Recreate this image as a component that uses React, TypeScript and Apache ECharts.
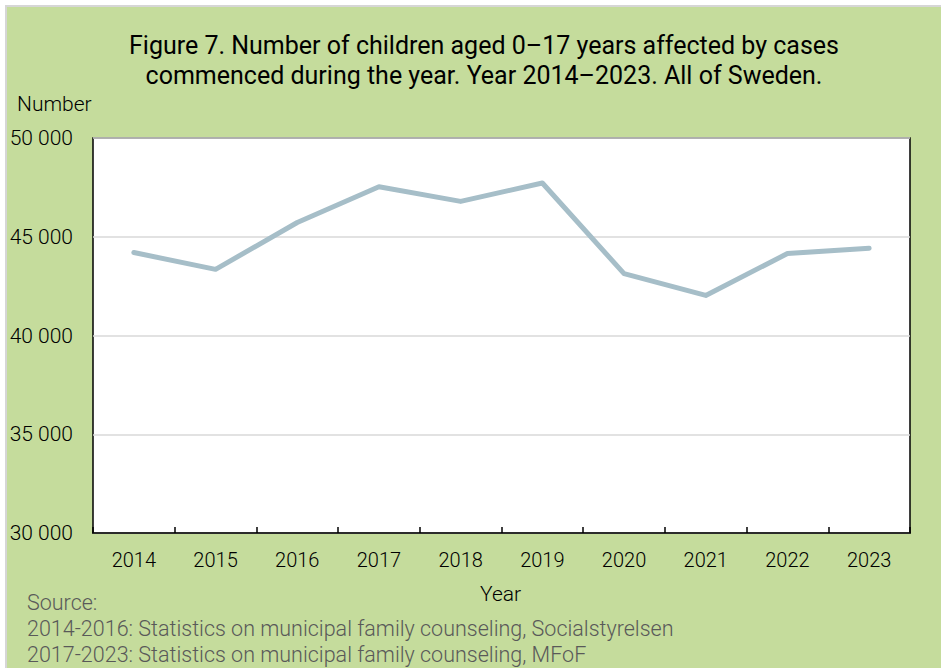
import React, { useEffect, useRef } from "react";
import * as echarts from "echarts";

const years = ["2014", "2015", "2016", "2017", "2018", "2019", "2020", "2021", "2022", "2023"];
const children = [44200, 43350, 45720, 47530, 46790, 47720, 43130, 42030, 44150, 44420];
const titleLines = [
  "Figure 7. Number of children aged 0–17 years affected by cases",
  "commenced during the year. Year 2014–2023. All of Sweden.",
];
const sourceLines = [
  "Source:",
  "2014-2016: Statistics on municipal family counseling, Socialstyrelsen",
  "2017-2023: Statistics on municipal family counseling, MFoF",
];
const yAxisName = "Number";
const xAxisName = "Year";

const FONT = "Roboto, 'Noto Sans', sans-serif";
const W = 300;

export default function App() {
  const ref = useRef<HTMLDivElement>(null);
  useEffect(() => {
    if (!ref.current) return;
    const chart = echarts.init(ref.current, undefined, { renderer: "svg" });
    chart.setOption({
      animation: false,
      backgroundColor: "transparent",
      textStyle: { fontFamily: FONT, fontWeight: W },
      title: {
        text: titleLines.join("\n"),
        left: 479,
        top: 25,
        textAlign: "center",
        textStyle: {
          fontFamily: FONT,
          fontSize: 25,
          fontWeight: "normal",
          color: "#000",
          lineHeight: 30,
        },
      },
      grid: {
        left: 93,
        top: 138,
        right: 31,
        bottom: 135,
        show: true,
        backgroundColor: "#ffffff",
        borderColor: "#000000",
        borderWidth: 1.5,
      },
      xAxis: {
        type: "category",
        data: years,
        boundaryGap: true,
        axisLine: { show: true, lineStyle: { color: "#000", width: 1.5 } },
        axisTick: { show: true, inside: true, length: 6, lineStyle: { color: "#000", width: 1.5 } },
        axisLabel: { color: "#000", fontSize: 20, fontWeight: W, fontFamily: FONT, margin: 17 },
        splitLine: { show: false },
      },
      yAxis: {
        type: "value",
        min: 30000,
        max: 50000,
        interval: 5000,
        axisLine: { show: false },
        axisTick: { show: false },
        axisLabel: {
          color: "#000",
          fontSize: 21,
          fontWeight: W,
          fontFamily: FONT,
          margin: 20,
          formatter: (v: number) => String(v).replace(/\B(?=(\d{3})+(?!\d))/g, " "),
        },
        splitLine: { show: true, lineStyle: { color: "#d9d9d9", width: 1.5 } },
      },
      graphic: [
        {
          type: "text",
          left: 17,
          top: 93,
          style: { text: yAxisName, fontSize: 21, fontWeight: W, fontFamily: FONT, fill: "#000" },
        },
        {
          type: "text",
          left: 480,
          top: 583,
          style: { text: xAxisName, fontSize: 21, fontWeight: W, fontFamily: FONT, fill: "#000" },
        },
        ...sourceLines.map((t, i) => ({
          type: "text",
          left: 27,
          top: 591 + i * 26,
          style: { text: t, fontSize: 21.5, fontWeight: W, fontFamily: FONT, fill: "#595959" },
        })),
      ],
      series: [
        {
          type: "line",
          data: children,
          symbol: "none",
          lineStyle: { color: "#a6bec8", width: 5, cap: "round", join: "round" },
        },
      ],
    });
    return () => chart.dispose();
  }, []);
  return (
    <div style={{ position: "fixed", left: 0, top: 0, width: 941, height: 668, background: "#ffffff" }}>
      <div
        style={{
          position: "absolute",
          left: 5,
          top: 5,
          width: 936,
          height: 663,
          boxSizing: "border-box",
          borderLeft: "2px solid #d6d6d6",
          borderTop: "2px solid #d6d6d6",
          background: "#c5dc9c",
        }}
      />
      <div ref={ref} style={{ position: "absolute", left: 0, top: 0, width: 941, height: 668 }} />
    </div>
  );
}
